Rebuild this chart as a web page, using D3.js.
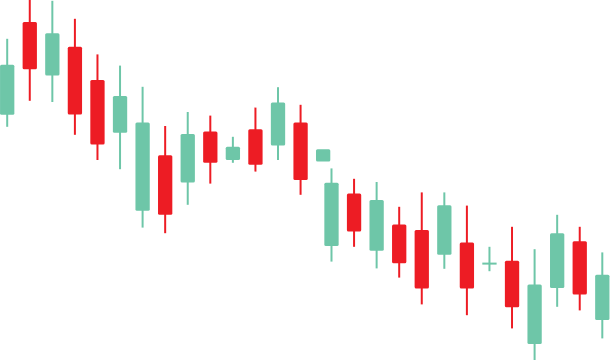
<!DOCTYPE html>
<html>
<head>
<meta charset="utf-8">
<script src="https://cdn.jsdelivr.net/npm/d3@7"></script>
<style>
  html, body { margin: 0; padding: 0; background: #fff; }
  svg { display: block; }
</style>
</head>
<body>
<svg id="svg"></svg>
<script>
// trading sessions (there is a short gap between 14 and the next one)
const session = [0, 1, 2, 3, 4, 5, 6, 7, 8, 9, 10, 11, 12, 13, 14,
    14.37, 15.37, 16.37, 17.37, 18.37, 19.37, 20.37, 21.37, 22.37, 23.37, 24.37, 25.37, 26.37];
const open  = [101.3, 124.5, 111.1, 118.3, 110.0, 96.8, 77.3, 91.2, 84.4, 97.1, 90.0, 97.7, 93.6, 99.4, 89.6,
    68.5, 81.6, 67.3, 73.9, 72.5, 66.3, 69.4, 64.1, 64.8, 44.0, 58.0, 69.7, 50.0];
const high  = [120.3, 130.0, 129.8, 125.3, 116.4, 113.6, 108.3, 98.5, 102.0, 101.1, 95.8, 103.1, 108.2, 103.8, 92.7,
    87.9, 85.3, 84.5, 78.3, 81.9, 81.9, 78.6, 68.3, 73.3, 67.7, 76.3, 73.3, 66.9];
const low   = [98.3, 104.8, 104.5, 96.3, 90.0, 87.7, 73.1, 71.7, 78.8, 84.1, 89.3, 87.1, 90.0, 81.3, 89.6,
    64.6, 68.3, 62.9, 60.6, 53.9, 62.8, 51.2, 62.2, 47.9, 40.0, 53.3, 52.4, 45.4];
const close = [113.8, 112.7, 121.7, 101.4, 93.9, 106.0, 99.4, 76.3, 96.5, 89.3, 93.3, 88.8, 104.4, 85.0, 92.7,
    84.3, 72.1, 80.0, 64.2, 57.9, 78.7, 57.9, 64.1, 53.2, 58.9, 71.7, 56.4, 61.3];

const width = 610, height = 360;
const up = "#6ec6a8", down = "#ed1c24";
const bodyW = 14.3;

const data = session.map((s, i) => ({
    s: s, o: open[i], h: high[i], l: low[i], c: close[i]
}));

const svg = d3.select("#svg")
    .attr("width", width)
    .attr("height", height);

const x = d3.scaleLinear()
    .domain([0, d3.max(session)])
    .range([7.2, 602.3]);

const y = d3.scaleLinear()
    .domain([40, 130])
    .range([height, 0]);

const color = d => d.c >= d.o ? up : down;

const candle = svg.selectAll("g.candle")
    .data(data)
    .join("g")
    .attr("class", "candle");

// wicks
candle.filter(d => d.h > Math.max(d.o, d.c) || d.l < Math.min(d.o, d.c))
    .append("line")
    .attr("x1", d => x(d.s))
    .attr("x2", d => x(d.s))
    .attr("y1", d => y(d.h))
    .attr("y2", d => y(d.l))
    .attr("stroke", color)
    .attr("stroke-width", 2);

// bodies
candle.append("rect")
    .attr("x", d => x(d.s) - bodyW / 2)
    .attr("width", bodyW)
    .attr("y", d => {
        const top = y(Math.max(d.o, d.c)), bot = y(Math.min(d.o, d.c));
        return bot - top < 2 ? (top + bot) / 2 - 1 : top;
    })
    .attr("height", d => Math.max(2, y(Math.min(d.o, d.c)) - y(Math.max(d.o, d.c))))
    .attr("rx", d => Math.abs(y(d.o) - y(d.c)) < 3 ? 0 : 1.5)
    .attr("fill", color);
</script>
</body>
</html>
